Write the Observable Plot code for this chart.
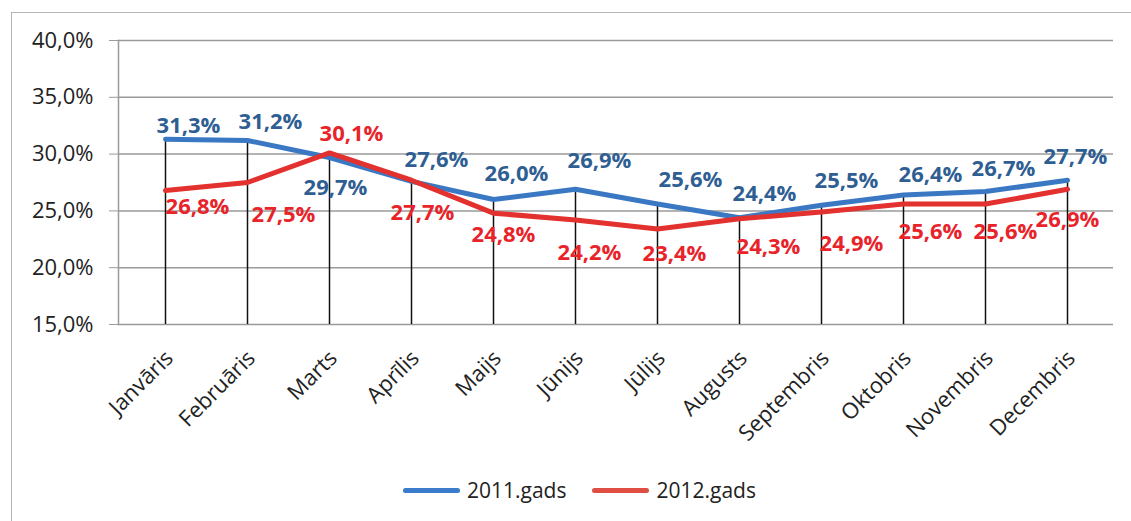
<!DOCTYPE html>
<html>
<head>
<meta charset="utf-8">
<script src="https://cdn.jsdelivr.net/npm/d3@7"></script>
<script src="https://cdn.jsdelivr.net/npm/@observablehq/plot@0.6"></script>
<style>
  html, body { margin: 0; padding: 0; background: #fff; }
  body { width: 1131px; height: 521px; position: relative; overflow: hidden; font-family: "Open Sans", sans-serif; }
  #frame { position: absolute; left: 11px; top: 12px; width: 1200px; height: 600px; border-left: 1.5px solid #b5b5b5; border-top: 1.5px solid #b5b5b5; }
  #chart { position: absolute; left: 0; top: 0; }
  #legend { position: absolute; left: 403px; top: 476px; display: flex; align-items: center; font-size: 21px; color: #222; }
  .sw { width: 57px; height: 5px; border-radius: 3px; margin-right: 7px; }
  .item { display: flex; align-items: center; margin-right: 26px; }
</style>
</head>
<body>
<div id="frame"></div>
<div id="chart"></div>
<div id="legend"></div>
<script>
const months = ["Janvāris","Februāris","Marts","Aprīlis","Maijs","Jūnijs","Jūlijs","Augusts","Septembris","Oktobris","Novembris","Decembris"];
const values2011 = [31.3,31.2,29.7,27.6,26.0,26.9,25.6,24.4,25.5,26.4,26.7,27.7];
const values2012 = [26.8,27.5,30.1,27.7,24.8,24.2,23.4,24.3,24.9,25.6,25.6,26.9];
const seriesNames = ["2011.gads","2012.gads"];
const yTicks = [15,20,25,30,35,40];

// label nudges (pixels), layout only
const nudge2011 = {dx:[23,23,6,25,23,24,33,25,25,27,18,8], dy:[-13,-19,30,-21,-26,-28,-24,-24,-24,-20,-23,-23]};
const nudge2012 = {dx:[32,36,22,11,10,14,17,29,30,27,20,0], dy:[17,32,-19,33,22,33,25,28,32,28,28,31]};

const blueLine = "#3b78c4", redLine = "#e2312e";
const blueText = "#2f5e93", redText = "#e8232a";
const fmt = d => d.toFixed(1).replace(".", ",") + "%";

const rows = months.map((m, i) => ({month: m, v2011: values2011[i], v2012: values2012[i], top: Math.max(values2011[i], values2012[i])}));

const labelMarks = [];
rows.forEach((r, i) => {
  labelMarks.push(Plot.text([r], {x: "month", y: "v2011", text: d => fmt(d.v2011), dx: nudge2011.dx[i], dy: nudge2011.dy[i], fill: blueText, fontWeight: "bold", fontSize: 22}));
  labelMarks.push(Plot.text([r], {x: "month", y: "v2012", text: d => fmt(d.v2012), dx: nudge2012.dx[i], dy: nudge2012.dy[i], fill: redText, fontWeight: "bold", fontSize: 22}));
});

const chart = Plot.plot({
  width: 1131,
  height: 470,
  marginLeft: 118,
  marginRight: 18,
  marginTop: 40,
  marginBottom: 146,
  style: {fontFamily: "'Open Sans', sans-serif", color: "#222", background: "transparent"},
  x: {type: "point", domain: months, padding: 0.5},
  y: {domain: [yTicks[0], yTicks[yTicks.length - 1]]},
  marks: [
    Plot.ruleY(yTicks, {stroke: "#9a9a9a", strokeWidth: 1.5}),
    Plot.frame({anchor: "left", stroke: "#9a9a9a", strokeWidth: 1.5}),
    Plot.axisY({ticks: yTicks, tickFormat: fmt, tickSize: 9, tickPadding: 16, stroke: "#9a9a9a", fontSize: 22, label: null}),
    Plot.axisX({tickRotate: -45, tickSize: 0, tickPadding: 30, dx: 4, fontSize: 22, label: null}),
    Plot.ruleX(rows, {x: "month", y1: yTicks[0], y2: "top", stroke: "#111", strokeWidth: 1.5}),
    Plot.lineY(rows, {x: "month", y: "v2011", stroke: blueLine, strokeWidth: 5}),
    Plot.lineY(rows, {x: "month", y: "v2012", stroke: redLine, strokeWidth: 5}),
    ...labelMarks
  ]
});
document.getElementById("chart").appendChild(chart);

const legend = document.getElementById("legend");
[[seriesNames[0], "#3a7bcb"], [seriesNames[1], "#df4e43"]].forEach(([name, c]) => {
  const it = document.createElement("div");
  it.className = "item";
  const sw = document.createElement("div");
  sw.className = "sw";
  sw.style.background = c;
  const t = document.createElement("span");
  t.textContent = name;
  it.appendChild(sw); it.appendChild(t);
  legend.appendChild(it);
});
</script>
</body>
</html>
